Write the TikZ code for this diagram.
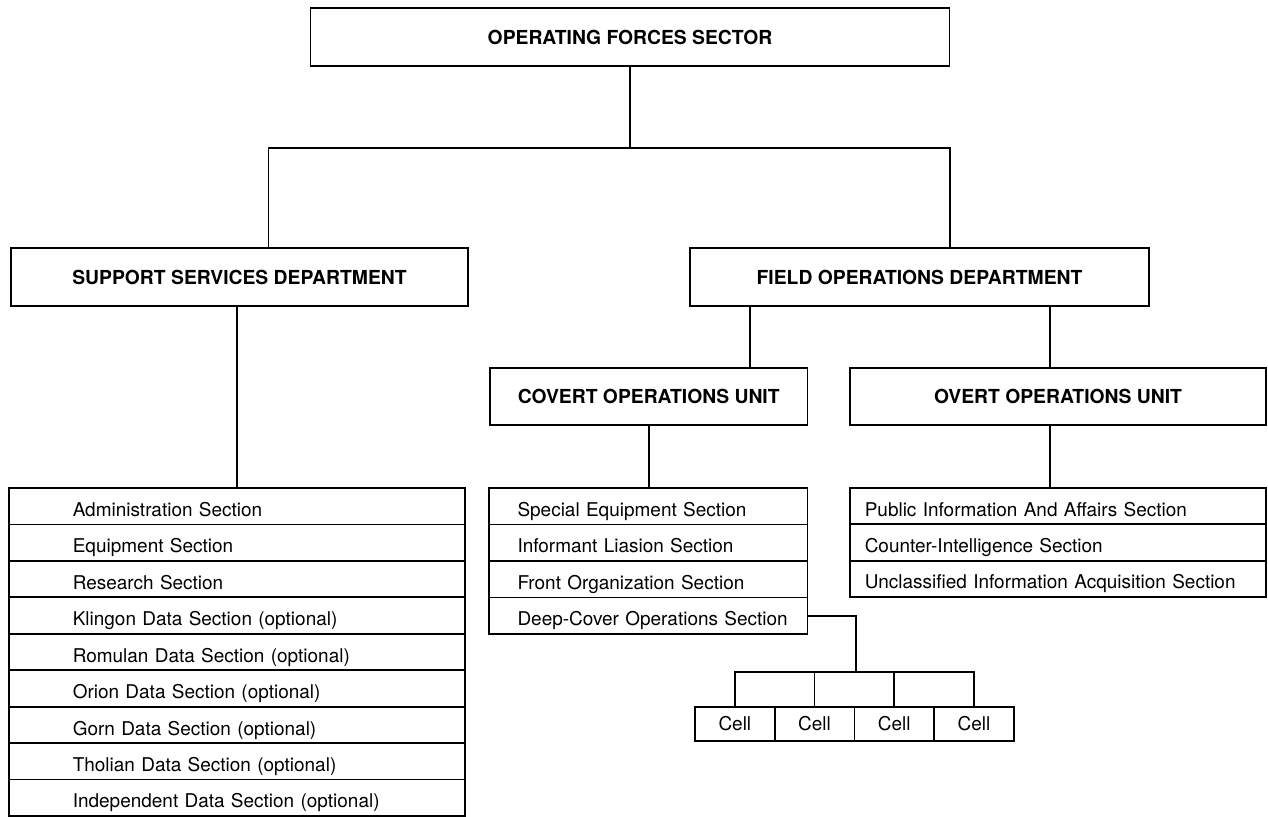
\documentclass[tikz,border=0pt]{standalone}
\usepackage{fontspec}
\setmainfont{TeX Gyre Heros}
\usepackage{tikz}
\newcommand{\headfont}{\fontsize{11}{13}\selectfont\bfseries}
\newcommand{\rowfont}{\fontsize{10.8}{13}\selectfont}

\begin{document}
\begin{tikzpicture}[x=0.02cm,y=-0.02cm,line width=1pt,
  headbox/.style={draw,font=\headfont,minimum height=1.16cm,inner sep=0pt},
  secrow/.style={draw,font=\rowfont,align=left,minimum height=0.729cm,inner ysep=0pt,text height=1.15em,text depth=0pt},
  suprow/.style={secrow,text width=6.57cm,inner xsep=1.274cm},
  covrow/.style={secrow,text width=6.17cm,inner xsep=0.1cm,execute at begin node={\hspace*{0.47cm}}},
  ovrow/.style={secrow,text width=7.73cm,inner xsep=0.294cm},
  cellbox/.style={draw,font=\rowfont,minimum width=1.594cm,minimum height=0.68cm,inner sep=0pt}]
  \useasboundingbox (0,0) rectangle (1268,817);
  % sector and departments
  \node[headbox,minimum width=12.78cm] (sector)  at (630,37)    {OPERATING FORCES SECTOR};
  \node[headbox,minimum width=9.14cm]  (support) at (239.5,277) {SUPPORT SERVICES DEPARTMENT};
  \node[headbox,minimum width=9.18cm]  (field)   at (919.5,277) {FIELD OPERATIONS DEPARTMENT};
  % units
  \node[headbox,minimum width=6.35cm,minimum height=1.14cm] (covert) at (648.75,396.5) {COVERT OPERATIONS UNIT};
  \node[headbox,minimum width=8.32cm,minimum height=1.14cm] (overt)  at (1058,396.5)   {OVERT OPERATIONS UNIT};
  % support services sections
  \node[suprow] (adm)   at (237,506.2) {Administration Section};
  \node[suprow] (equip) at (237,542.7) {Equipment Section};
  \node[suprow] (res)   at (237,579.1) {Research Section};
  \node[suprow] (kling) at (237,615.5) {Klingon Data Section (optional)};
  \node[suprow] (rom)   at (237,652.0) {Romulan Data Section (optional)};
  \node[suprow] (orion) at (237,688.4) {Orion Data Section (optional)};
  \node[suprow] (gorn)  at (237,724.9) {Gorn Data Section (optional)};
  \node[suprow] (thol)  at (237,761.3) {Tholian Data Section (optional)};
  \node[suprow] (indep) at (237,797.8) {Independent Data Section (optional)};
  % covert sections
  \node[covrow] (spec)  at (648.25,506.25) {Special Equipment Section};
  \node[covrow] (inf)   at (648.25,542.75) {Informant Liasion Section};
  \node[covrow] (front) at (648.25,579.25) {Front Organization Section};
  \node[covrow] (deep)  at (648.25,615.75) {Deep-Cover Operations Section};
  % overt sections
  \node[ovrow] (pub)     at (1058,506.2) {Public Information And Affairs Section};
  \node[ovrow] (counter) at (1058,542.5) {Counter-Intelligence Section};
  \node[ovrow] (uncl)    at (1058,578.8) {Unclassified Information Acquisition Section};
  % cells
  \node[cellbox] (cell1) at (734.85,724) {Cell};
  \node[cellbox] (cell2) at (814.55,724) {Cell};
  \node[cellbox] (cell3) at (894.25,724) {Cell};
  \node[cellbox] (cell4) at (973.95,724) {Cell};
  % junction points
  \coordinate (jL) at (268.5,148);
  \coordinate (jR) at (950,148);
  \coordinate (cdrop) at (750,0);
  \coordinate (odrop) at (1050,0);
  \coordinate (dc) at (856,672);
  % connectors
  \draw (sector.south) -- (sector.south |- jL);
  \draw (jL |- support.north) -- (jL) -- (jR) -- (jR |- field.north);
  \draw (support.south -| adm.north) -- (adm.north);
  \draw (field.south -| cdrop) -- (covert.north -| cdrop);
  \draw (field.south -| odrop) -- (overt.north -| odrop);
  \draw (covert.south) -- (covert.south |- spec.north);
  \draw (overt.south -| odrop) -- (pub.north -| odrop);
  \draw (deep.east) -- (deep.east -| dc) -- (dc);
  \draw (cell1.north) -- (cell1.north |- dc) -- (cell4.north |- dc) -- (cell4.north);
  \draw (cell2.north |- dc) -- (cell2.north);
  \draw (cell3.north |- dc) -- (cell3.north);
\end{tikzpicture}
\end{document}
